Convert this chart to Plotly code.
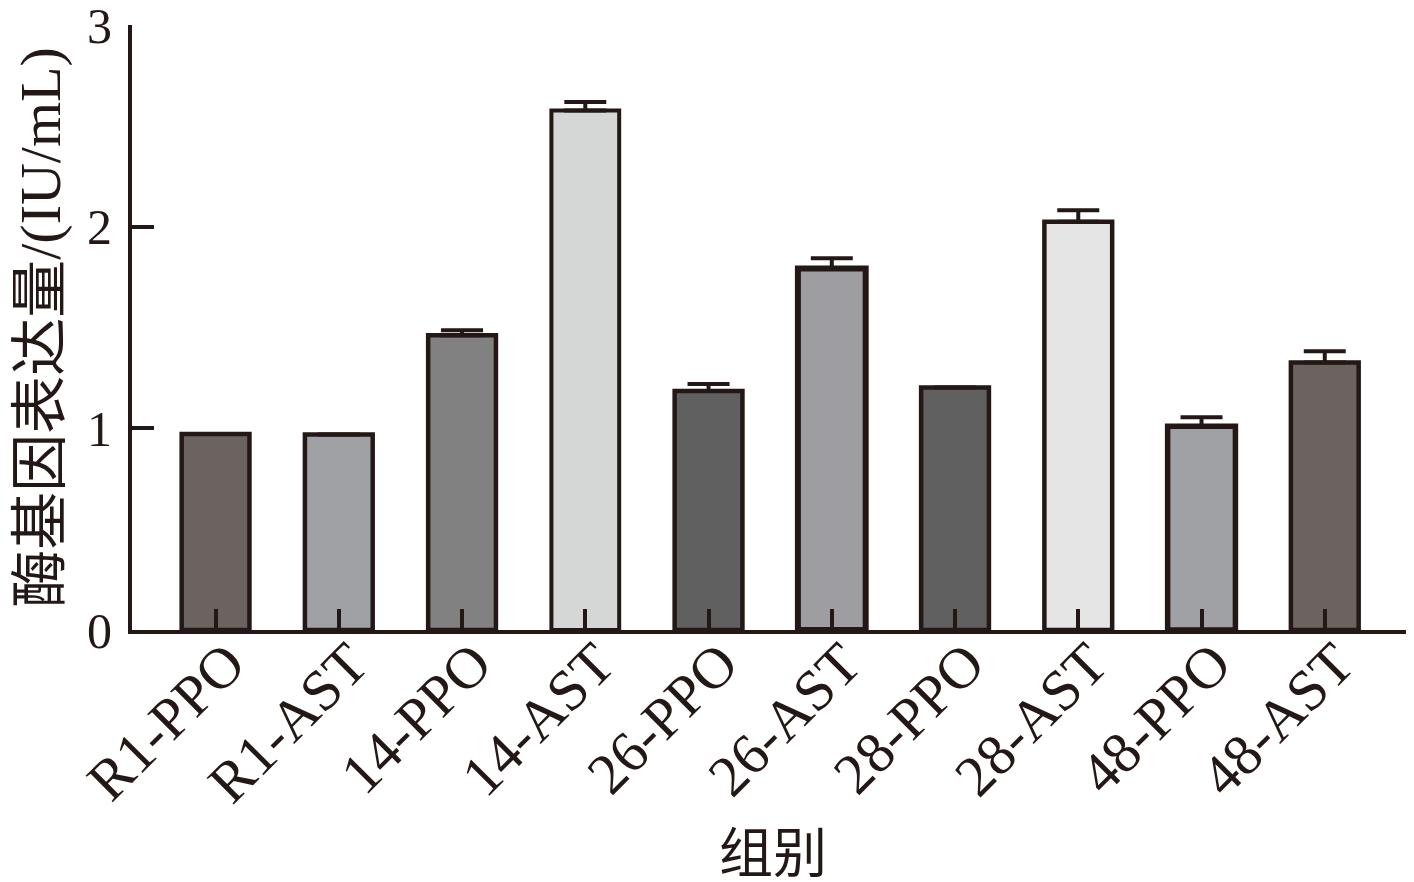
import plotly.graph_objects as go

categories = ["R1-PPO", "R1-AST", "14-PPO", "14-AST", "26-PPO",
              "26-AST", "28-PPO", "28-AST", "48-PPO", "48-AST"]
values = [0.972, 0.969, 1.461, 2.576, 1.185, 1.793, 1.203, 2.025, 1.010, 1.327]
errors = [0.0, 0.0, 0.025, 0.042, 0.035, 0.051, 0.0, 0.056, 0.045, 0.055]
colors = ["#6b635f", "#a0a1a5", "#818181", "#d5d6d6", "#606060",
          "#9e9ea2", "#606060", "#e5e5e5", "#a0a1a5", "#6b635f"]
border_widths = [4.5, 4.5, 4.5, 4, 4.5, 6, 4.5, 4.5, 5.5, 4.5]
y_ticks = [0, 1, 2, 3]
y_title = "酶基因表达量/(IU/mL)"
x_title = "组别"

INK = "#231816"
FONT = "Liberation Serif, Times New Roman, Noto Sans CJK SC, serif"

x_pos = list(range(len(categories)))

fig = go.Figure()
fig.add_trace(go.Bar(
    x=x_pos,
    y=values,
    width=0.55,
    marker=dict(color=colors, line=dict(color=INK, width=border_widths)),
    error_y=dict(type="data", array=errors, arrayminus=[0] * len(errors),
                 symmetric=False, color=INK, thickness=4, width=21,
                 visible=True),
    showlegend=False,
))

# page body has an 8px default margin, so the figure is shifted by 8px
fig.update_layout(
    width=1406, height=874,
    margin=dict(l=124, r=0, t=17, b=252),
    paper_bgcolor="white", plot_bgcolor="white",
    font=dict(family=FONT, color=INK, size=54),
)

fig.add_annotation(
    text=x_title, xref="paper", yref="paper", x=0.5, y=-0.372,
    xanchor="center", yanchor="middle", showarrow=False,
    font=dict(family=FONT, size=54, color=INK),
)

fig.update_xaxes(
    range=[-0.678, 9.724],
    tickmode="array", tickvals=x_pos, ticktext=categories,
    tickangle=-45,
    ticks="inside", ticklen=21, tickwidth=4, tickcolor=INK,
    showline=True, linecolor=INK, linewidth=4,
    showgrid=False, zeroline=False,
    ticklabelstandoff=-28,
    ticklabelshift=12,
    ticklabeloverflow="allow",
    tickfont=dict(family=FONT, size=58, color=INK),
    automargin=False,
)
fig.update_yaxes(
    range=[0, 3],
    tickmode="array", tickvals=y_ticks, ticktext=[str(v) for v in y_ticks],
    ticks="inside", ticklen=22, tickwidth=4, tickcolor=INK,
    showline=True, linecolor=INK, linewidth=4,
    showgrid=False, zeroline=False,
    ticklabelstandoff=6,
    ticklabeloverflow="allow",
    tickfont=dict(family=FONT, size=50, color=INK),
    title=dict(text=y_title, font=dict(family=FONT, size=58, color=INK), standoff=28),
    automargin=False,
)

fig.write_html("out.html")
